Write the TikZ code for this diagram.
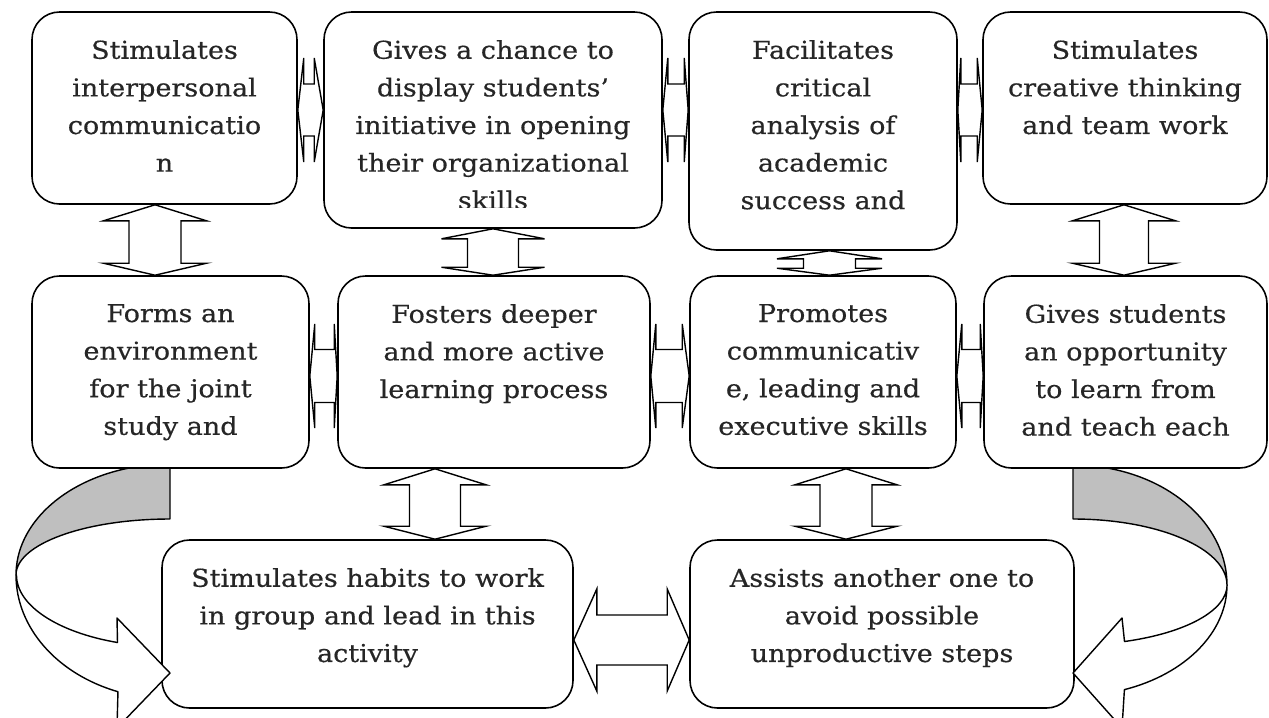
\documentclass[tikz,border=0pt]{standalone}
\usepackage{fontspec}
\setmainfont{DejaVu Serif}[FakeStretch=1.10, FakeBold=0.4]
\usetikzlibrary{positioning,calc}
\tikzset{
  every picture/.style={line join=round, line cap=round},
  card/.style={draw, fill=white, rounded corners=0.55cm, line width=0.9pt, inner sep=0pt},
  txt/.style={align=center, inner sep=0pt, text=black!85, font=\fontsize{14}{21.4}\selectfont},
  link/.style={draw, fill=white, line width=0.8pt, line join=miter},
  band/.style={draw, line width=0.8pt},
}
% double block arrow between two tips: barb, shaft, head lengths
\newcommand{\vlink}[6]{%
  \path[link] (#1) -- ($(#1)+(-#3,-#5)$) -- ($(#1)+(-#4,-#5)$) -- ($(#2)+(-#4,#6)$) -- ($(#2)+(-#3,#6)$) -- (#2)
    -- ($(#2)+(#3,#6)$) -- ($(#2)+(#4,#6)$) -- ($(#1)+(#4,-#5)$) -- ($(#1)+(#3,-#5)$) -- cycle;}
\newcommand{\hlink}[6]{%
  \path[link] (#1) -- ($(#1)+(#5,#3)$) -- ($(#1)+(#5,#4)$) -- ($(#2)+(-#6,#4)$) -- ($(#2)+(-#6,#3)$) -- (#2)
    -- ($(#2)+(-#6,-#3)$) -- ($(#2)+(-#6,-#4)$) -- ($(#1)+(#5,-#4)$) -- ($(#1)+(#5,-#3)$) -- cycle;}

\begin{document}
\begin{tikzpicture}
\useasboundingbox (0,0) rectangle (25.38,-14.34);

% back side of the two turning arrows
\path[band, fill=gray!50] (3.40,-9.36) -- (3.40,-10.38)
  arc[start angle=90, end angle=180, x radius=3.08, y radius=1.12]
  arc[start angle=180, end angle=105.4, x radius=3.08, y radius=2.22] -- cycle;
\path[band, fill=gray!50] (21.46,-9.36) -- (21.46,-10.38)
  arc[start angle=90, end angle=0, x radius=3.08, y radius=1.32]
  arc[start angle=0, end angle=77.2, x radius=3.08, y radius=2.40] -- cycle;

% boxes
\node[card, minimum width=5.30cm, minimum height=3.84cm] (b1) at (3.29,-2.16) {};
\node[card, minimum width=6.76cm, minimum height=4.32cm] (b2) at (9.86,-2.40) {};
\node[card, minimum width=5.36cm, minimum height=4.76cm] (b3) at (16.46,-2.62) {};
\node[card, minimum width=5.68cm, minimum height=3.84cm] (b4) at (22.50,-2.16) {};
\node[card, minimum width=5.54cm, minimum height=3.84cm] (b5) at (3.41,-7.44) {};
\node[card, minimum width=6.24cm, minimum height=3.84cm] (b6) at (9.88,-7.44) {};
\node[card, minimum width=5.32cm, minimum height=3.84cm] (b7) at (16.46,-7.44) {};
\node[card, minimum width=5.66cm, minimum height=3.84cm] (b8) at (22.51,-7.44) {};
\node[card, minimum width=8.22cm, minimum height=3.36cm] (b9) at (7.35,-12.48) {};
\node[card, minimum width=7.68cm, minimum height=3.36cm] (b10) at (17.64,-12.48) {};

% texts
\node[txt, below=0.57cm of b1.north] (t1) {Stimulates\\interpersonal\\communicatio\\n};
\begin{scope}
  \clip (b2.north west) rectangle (b2.east |- 0,-4.14);
  \node[txt, below=0.57cm of b2.north] (t2) {Gives a chance to\\display students'\\initiative in opening\\their organizational\\skills};
\end{scope}
\node[txt, below=0.57cm of b3.north] (t3) {Facilitates\\critical\\analysis of\\academic\\success and};
\node[txt, below=0.57cm of b4.north] (t4) {Stimulates\\creative thinking\\and team work};
\node[txt, below=0.57cm of b5.north] (t5) {Forms an\\environment\\for the joint\\study and};
\node[txt, below=0.57cm of b6.north] (t6) {Fosters deeper\\and more active\\learning process};
\node[txt, below=0.57cm of b7.north] (t7) {Promotes\\communicativ\\e, leading and\\executive skills};
\node[txt, below=0.57cm of b8.north] (t8) {Gives students\\an opportunity\\to learn from\\and teach each};
\node[txt, below=0.57cm of b9.north] (t9) {Stimulates habits to work\\in group and lead in this\\activity};
\node[txt, below=0.57cm of b10.north] (t10) {Assists another one to\\avoid possible\\unproductive steps};

% links along the rows
\coordinate (h12a) at (b1.east |- 0,-2.20);  \coordinate (h12b) at (b2.west |- 0,-2.20);
\coordinate (h23a) at (b2.east |- 0,-2.20);  \coordinate (h23b) at (b3.west |- 0,-2.20);
\coordinate (h34a) at (b3.east |- 0,-2.20);  \coordinate (h34b) at (b4.west |- 0,-2.20);
\coordinate (h56a) at (b5.east |- 0,-7.52);  \coordinate (h56b) at (b6.west |- 0,-7.52);
\coordinate (h67a) at (b6.east |- 0,-7.52);  \coordinate (h67b) at (b7.west |- 0,-7.52);
\coordinate (h78a) at (b7.east |- 0,-7.52);  \coordinate (h78b) at (b8.west |- 0,-7.52);
\coordinate (h90a) at (b9.east |- 0,-12.80); \coordinate (h90b) at (b10.west |- 0,-12.80);
\hlink{h12a}{h12b}{1.04}{0.52}{0.12}{0.18}
\hlink{h23a}{h23b}{1.04}{0.52}{0.10}{0.08}
\hlink{h34a}{h34b}{1.04}{0.52}{0.06}{0.10}
\hlink{h56a}{h56b}{1.04}{0.53}{0.10}{0.06}
\hlink{h67a}{h67b}{1.04}{0.53}{0.10}{0.14}
\hlink{h78a}{h78b}{1.04}{0.53}{0.10}{0.06}
\hlink{h90a}{h90b}{1.02}{0.50}{0.46}{0.44}

% links between the rows
\coordinate (v15a) at (3.10,0 |- b1.south);   \coordinate (v15b) at (3.10,0 |- b5.north);
\coordinate (v26a) at (9.86,0 |- b2.south);   \coordinate (v26b) at (9.86,0 |- b6.north);
\coordinate (v37a) at (16.59,0 |- b3.south);  \coordinate (v37b) at (16.59,0 |- b7.north);
\coordinate (v48a) at (22.48,0 |- b4.south);  \coordinate (v48b) at (22.48,0 |- b8.north);
\coordinate (v69a) at (8.70,0 |- b6.south);   \coordinate (v69b) at (8.70,0 |- b9.north);
\coordinate (v70a) at (16.92,0 |- b7.south);  \coordinate (v70b) at (16.92,0 |- b10.north);
\vlink{v15a}{v15b}{1.03}{0.52}{0.32}{0.24}
\vlink{v26a}{v26b}{1.03}{0.51}{0.20}{0.16}
\vlink{v37a}{v37b}{1.05}{0.52}{0.16}{0.14}
\vlink{v48a}{v48b}{1.03}{0.49}{0.32}{0.24}
\vlink{v69a}{v69b}{1.02}{0.51}{0.32}{0.26}
\vlink{v70a}{v70b}{1.02}{0.52}{0.32}{0.26}

% front side of the turning arrows
\path[band, fill=white] (0.32,-11.50)
  arc[start angle=180, end angle=250.25, x radius=3.08, y radius=2.48]
  -- (2.34,-14.56) -- (3.40,-13.46) -- (2.34,-12.36) -- (2.35,-12.85)
  arc[start angle=249.9, end angle=180, x radius=3.08, y radius=1.44] -- cycle;
\path[band, fill=white] (24.54,-11.70)
  arc[start angle=0, end angle=-70.5, x radius=3.08, y radius=2.22]
  -- (22.44,-14.56) -- (21.46,-13.46) -- (22.44,-12.36) -- (22.49,-12.83)
  arc[start angle=-70.5, end angle=0, x radius=3.08, y radius=1.20] -- cycle;
\end{tikzpicture}
\end{document}
